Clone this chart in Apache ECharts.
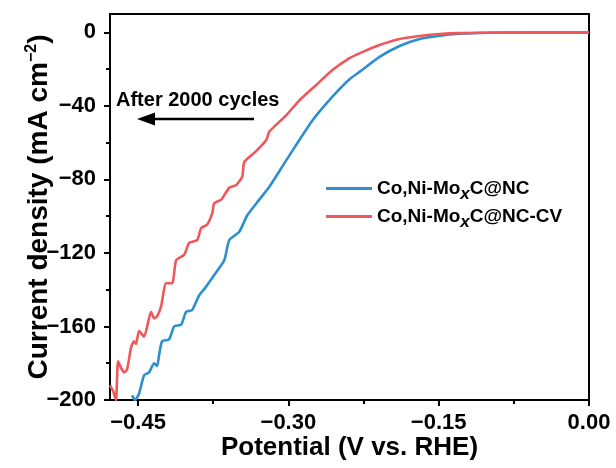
<!DOCTYPE html>
<html>
<head>
<meta charset="utf-8">
<script src="https://cdn.jsdelivr.net/npm/echarts@6/dist/echarts.min.js"></script>
<style>
html,body{margin:0;padding:0;background:#fff;}
#chart{width:616px;height:468px;}
</style>
</head>
<body>
<div id="chart"></div>
<script>
// ---- data ----
const seriesNames = ['Co,Ni-MoxC@NC', 'Co,Ni-MoxC@NC-CV'];
const blueX = [-0.456,-0.453,-0.449,-0.444,-0.439,-0.434,-0.431,-0.429,-0.426,-0.419,-0.414,-0.407,-0.402,-0.396,-0.389,-0.383,-0.374,-0.364,-0.359,-0.349,-0.341,-0.329,-0.319,-0.302,-0.276,-0.256,-0.239,-0.229,-0.209,-0.189,-0.169,-0.149,-0.129,-0.109,-0.089,-0.05,0];
const blueY = [-197.5,-200,-196.5,-186.5,-185,-180,-181.5,-175.5,-168,-167,-160,-159,-152,-151,-143,-139,-132,-124,-113,-108.5,-99.5,-91,-84,-69.5,-48,-35,-25.5,-21.5,-13.3,-7.4,-3.6,-1.8,-0.7,-0.3,-0.1,0,0];
const redX = [-0.478,-0.475,-0.472,-0.470,-0.467,-0.464,-0.461,-0.457,-0.454,-0.452,-0.449,-0.444,-0.437,-0.434,-0.431,-0.427,-0.422,-0.416,-0.412,-0.404,-0.399,-0.391,-0.387,-0.381,-0.376,-0.374,-0.367,-0.359,-0.352,-0.346,-0.344,-0.333,-0.322,-0.319,-0.302,-0.289,-0.272,-0.256,-0.239,-0.229,-0.209,-0.189,-0.169,-0.149,-0.129,-0.089,-0.05,0];
const redY = [-192,-195,-200,-179,-182.5,-185,-183.5,-171.5,-168,-169.5,-162.5,-165.5,-152,-155.5,-154.5,-149,-136.5,-136.5,-124,-121,-114.5,-113,-106.5,-104.5,-98.5,-93,-91,-84.5,-83,-78.5,-70.5,-65,-58.5,-54,-45,-37,-28.5,-20.5,-14,-11.4,-6.9,-3.6,-2,-0.9,-0.4,-0.1,0,0];
const xTicks = [-0.45, -0.30, -0.15, 0.00];
const xMinorTicks = [-0.375, -0.225, -0.075];
const yTicks = [-200, -160, -120, -80, -40, 0];
const yMinorTicks = [-180, -140, -100, -60, -20];
const xRange = [-0.478, 0];
const yRange = [-200, 10];
const annotationText = 'After 2000 cycles';

// ---- chart ----
const FONT = '"Liberation Sans", Arial, sans-serif';
const W = 616, H = 468;
const G = {left: 110, right: 27, top: 14, bottom: 68};
const zip = (xs, ys) => xs.map((x, i) => [x, ys[i]]);
const minus = s => s.replace('-', '\u2212');
const chart = echarts.init(document.getElementById('chart'));
const labelStyle = {color: '#000', fontFamily: FONT, fontWeight: 'bold', fontSize: 22};

chart.setOption({
  animation: false,
  backgroundColor: '#fff',
  grid: Object.assign({show: true, borderColor: '#000', borderWidth: 2, backgroundColor: 'transparent'}, G),
  xAxis: [{
    type: 'value', min: xRange[0], max: xRange[1], position: 'bottom',
    axisLine: {onZero: false, lineStyle: {color: '#000', width: 2}},
    axisTick: {show: true, inside: false, length: 6, lineStyle: {color: '#000', width: 2}, customValues: xTicks},
    axisLabel: Object.assign({customValues: xTicks, margin: 12, formatter: v => minus(v.toFixed(2))}, labelStyle),
    splitLine: {show: false},
    name: 'Potential (V vs. RHE)', nameLocation: 'middle', nameGap: 35, nameMoveOverlap: false,
    nameTextStyle: {color: '#000', fontFamily: FONT, fontWeight: 'bold', fontSize: 26}
  }, {
    // minor ticks: top-positioned axis shifted down onto the bottom edge, ticks pointing outward (down)
    type: 'value', min: xRange[0], max: xRange[1], position: 'top', offset: -(H - G.top - G.bottom),
    axisLine: {show: false, onZero: false},
    axisTick: {show: true, inside: true, length: 4, lineStyle: {color: '#000', width: 2}, customValues: xMinorTicks},
    axisLabel: {show: false}, splitLine: {show: false}
  }],
  yAxis: [{
    type: 'value', min: yRange[0], max: yRange[1], position: 'left',
    axisLine: {onZero: false, lineStyle: {color: '#000', width: 2}},
    axisTick: {show: true, inside: false, length: 6, lineStyle: {color: '#000', width: 2}, customValues: yTicks},
    axisLabel: Object.assign({customValues: yTicks, margin: 14, formatter: v => minus(String(v))}, labelStyle),
    splitLine: {show: false},
    name: '{a|Current density (mA cm}{s|\u22122}{a|)}', nameLocation: 'middle', nameGap: 56, nameRotate: 90, nameMoveOverlap: false,
    nameTextStyle: {
      rich: {
        a: {color: '#000', fontFamily: FONT, fontWeight: 'bold', fontSize: 28, lineHeight: 30},
        s: {color: '#000', fontFamily: FONT, fontWeight: 'bold', fontSize: 16, verticalAlign: 'top'}
      }
    }
  }, {
    type: 'value', min: yRange[0], max: yRange[1], position: 'right', offset: -(W - G.left - G.right),
    axisLine: {show: false, onZero: false},
    axisTick: {show: true, inside: true, length: 4, lineStyle: {color: '#000', width: 2}, customValues: yMinorTicks},
    axisLabel: {show: false}, splitLine: {show: false}
  }],
  legend: {
    data: seriesNames, orient: 'vertical', left: 326, top: 174, padding: 0,
    icon: 'rect', itemWidth: 46, itemHeight: 3, itemGap: -1,
    formatter: name => '{a|Co,Ni-Mo}{x|x}{a|C@NC' + (name.endsWith('-CV') ? '-CV' : '') + '}',
    textStyle: {
      rich: {
        a: {color: '#000', fontFamily: FONT, fontWeight: 'bold', fontSize: 19, lineHeight: 22},
        x: {color: '#000', fontFamily: FONT, fontWeight: 'bold', fontStyle: 'italic', fontSize: 17, lineHeight: 22, padding: [12, 0, 0, 0]}
      }
    }
  },
  graphic: [
    {type: 'text', left: 116, top: 90, style: {text: annotationText, fill: '#000', font: 'bold 20px ' + FONT}},
    {type: 'line', shape: {x1: 254, y1: 119, x2: 150, y2: 119}, style: {stroke: '#000', lineWidth: 2.5}},
    {type: 'polygon', shape: {points: [[137, 119], [155, 112.5], [155, 125.5]]}, style: {fill: '#000'}}
  ],
  series: [{
    name: seriesNames[0], type: 'line', xAxisIndex: 0, yAxisIndex: 0,
    data: zip(blueX, blueY), symbol: 'none', smooth: 0.2,
    lineStyle: {color: '#2b8fd0', width: 2.6}, itemStyle: {color: '#2b8fd0'}, clip: true
  }, {
    name: seriesNames[1], type: 'line', xAxisIndex: 0, yAxisIndex: 0,
    data: zip(redX, redY), symbol: 'none', smooth: 0.2,
    lineStyle: {color: '#f0575b', width: 2.6}, itemStyle: {color: '#f0575b'}, clip: true
  }]
});
</script>
</body>
</html>
